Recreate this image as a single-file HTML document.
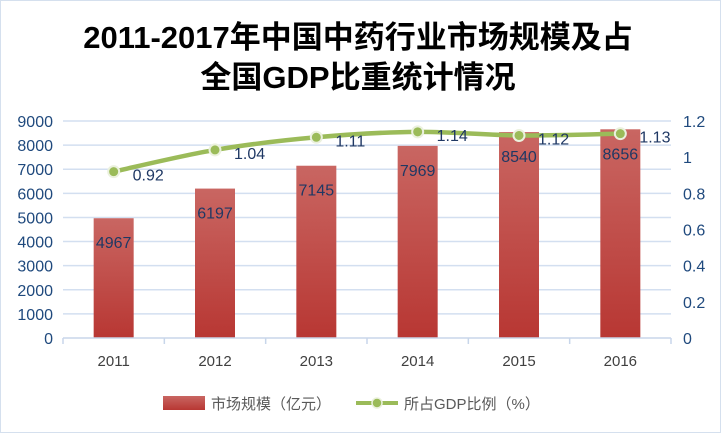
<!DOCTYPE html>
<html><head><meta charset="utf-8"><style>
body{margin:0;background:#fff;}
svg{display:block;font-family:"Liberation Sans","Noto Sans CJK SC",sans-serif;}
</style></head><body>
<svg id="chart" width="721" height="433">
<defs>
<linearGradient id="bg" x1="0" y1="0" x2="0" y2="1"><stop offset="0" stop-color="#c96662"/><stop offset="1" stop-color="#b83733"/></linearGradient>
</defs>
<rect x="0.5" y="0.5" width="720" height="432" fill="#fff" stroke="#d5e0ee"/>
<text x="358" y="48" text-anchor="middle" font-size="31" font-weight="bold" fill="#000">2011-2017年中国中药行业市场规模及占</text>
<text x="358" y="88" text-anchor="middle" font-size="31" font-weight="bold" fill="#000">全国GDP比重统计情况</text>
<g id="grid"></g><g id="bars"></g><g id="line"></g><g id="axes"></g>
<g>
<rect x="163" y="396" width="42" height="14" fill="url(#bg)"/>
<text x="211" y="409" font-size="15" fill="#595959">市场规模（亿元）</text>
<line x1="356" y1="403" x2="398" y2="403" stroke="#9bbb59" stroke-width="4"/>
<circle cx="377" cy="403" r="5" fill="#9bbb59" stroke="#ebf1de" stroke-width="1.5"/>
<text x="404" y="409" font-size="15" fill="#595959">所占GDP比例（%）</text>
</g>
</svg>
<script>
const categories=["2011","2012","2013","2014","2015","2016"];
const marketSize=[4967,6197,7145,7969,8540,8656];
const gdpShare=[0.92,1.04,1.11,1.14,1.12,1.13];
const leftTicks=[0,1000,2000,3000,4000,5000,6000,7000,8000,9000];
const rightTicks=[0,0.2,0.4,0.6,0.8,1,1.2];
const NS="http://www.w3.org/2000/svg";
const L=63,R=671,T=121,B=338;
const band=(R-L)/categories.length;
const xc=i=>L+band*(i+0.5);
const yL=v=>B-(v/9000)*(B-T);
const yR=v=>B-(v/1.2)*(B-T);
function mk(tag,attrs,parent,txt){const e=document.createElementNS(NS,tag);for(const k in attrs)e.setAttribute(k,attrs[k]);if(txt!==undefined)e.textContent=txt;document.getElementById(parent).appendChild(e);return e;}
leftTicks.forEach(v=>{
 if(v>0){const g=mk('line',{x1:L,x2:R,y1:yL(v),y2:yL(v),stroke:'#d3dff0','stroke-width':1.5},'grid');
 
 }
 const t=mk('text',{x:53,y:yL(v)+6,'text-anchor':'end','font-size':16,fill:'#1f497d'},'axes',String(v));
 
 
});
rightTicks.forEach(v=>{
 const t=mk('text',{x:683,y:yR(v)+6,'font-size':16,fill:'#1f497d'},'axes',String(v));
 
 
});
const ax=mk('line',{x1:L,x2:R,y1:B,y2:B,stroke:'#c8d6ea','stroke-width':1.5},'axes');


for(let i=0;i<=categories.length;i++){const tk=mk('line',{x1:L+band*i,x2:L+band*i,y1:B,y2:B+6,stroke:'#c8d6ea','stroke-width':1.5},'axes');
 
 }
categories.forEach((c,i)=>{
 const t=mk('text',{x:xc(i),y:366,'text-anchor':'middle','font-size':15,fill:'#404040'},'axes',c);
 
 
 const b=mk('rect',{x:xc(i)-20,y:yL(marketSize[i]),width:40,height:B-yL(marketSize[i]),fill:'url(#bg)'},'bars');
 
 
 const bl=mk('text',{x:xc(i),y:yL(marketSize[i])+30,'text-anchor':'middle','font-size':16,fill:'#1f3864'},'bars',String(marketSize[i]));
 
 
});
const pts=gdpShare.map((v,i)=>[xc(i),yR(v)]);
let d='M'+pts[0][0]+','+pts[0][1];
for(let i=0;i<pts.length-1;i++){
 const p0=pts[Math.max(i-1,0)],p1=pts[i],p2=pts[i+1],p3=pts[Math.min(i+2,pts.length-1)];
 const c1=[p1[0]+(p2[0]-p0[0])/6,p1[1]+(p2[1]-p0[1])/6],c2=[p2[0]-(p3[0]-p1[0])/6,p2[1]-(p3[1]-p1[1])/6];
 d+=` C${c1[0]},${c1[1]} ${c2[0]},${c2[1]} ${p2[0]},${p2[1]}`;
}
const ln=mk('path',{d:d,fill:'none',stroke:'#9bbb59','stroke-width':4.5},'line');


pts.forEach((p,i)=>{
 const c=mk('circle',{cx:p[0],cy:p[1],r:5.5,fill:'#9bbb59',stroke:'#ebf1de','stroke-width':2},'line');
 
 
 const t=mk('text',{x:p[0]+19,y:p[1]+9,'font-size':16,fill:'#1f3864'},'line',gdpShare[i].toFixed(2));
 
 
});
</script>
</body></html>
